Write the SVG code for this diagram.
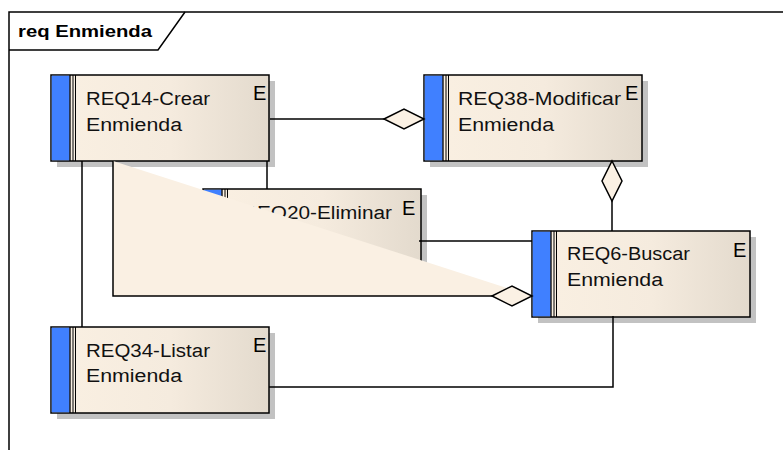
<svg xmlns="http://www.w3.org/2000/svg" width="783" height="450" viewBox="0 0 783 450">
  <defs>
    <linearGradient id="reqFill" x1="0" y1="0" x2="1" y2="0">
      <stop offset="0" stop-color="#faf0e2"/>
      <stop offset="0.55" stop-color="#f5ebde"/>
      <stop offset="1" stop-color="#e3dacd"/>
    </linearGradient>
    <!-- one requirement element: shadow, body, blue stripe, double rule -->
    <g id="reqBox">
      <rect x="6" y="6" width="218" height="86" fill="#c2c2c2"/>
      <rect x="0" y="0" width="218" height="86" fill="url(#reqFill)" stroke="#000" stroke-width="1.5"/>
      <rect x="0.75" y="0.75" width="18" height="84.5" fill="#4080ff"/>
      <line x1="19" y1="0" x2="19" y2="86" stroke="#000" stroke-width="1.3"/>
      <line x1="22" y1="0" x2="22" y2="86" stroke="#000" stroke-width="1"/>
      <line x1="24.5" y1="0" x2="24.5" y2="86" stroke="#000" stroke-width="1"/>
    </g>
  </defs>
  <style>
    .frame { fill: none; stroke: #000; stroke-width: 1.5; }
    .title { font-family: "Liberation Sans", Arial, sans-serif; font-size: 17px; font-weight: bold; fill: #000; }
    .lbl { font-family: "Liberation Sans", Arial, sans-serif; font-size: 18px; fill: #111; }
    .stereo { font-family: "Liberation Sans", Arial, sans-serif; font-size: 20px; fill: #000; }
    .link { fill: none; stroke: #000; stroke-width: 1.5; }
    .diamond { fill: #fbf1e4; stroke: #000; stroke-width: 1.5; stroke-linejoin: miter; }
  </style>

  <rect width="783" height="450" fill="#fff"/>

  <!-- diagram frame with name tab -->
  <g id="frame">
    <polyline class="frame" points="9,450 9,12 783,12"/>
    <polyline class="frame" points="9,50 158,50 185,12"/>
    <text class="title" x="18" y="37" textLength="134" lengthAdjust="spacingAndGlyphs">req Enmienda</text>
  </g>

  <g id="REQ14">
    <use href="#reqBox" x="51" y="75"/>
    <text class="lbl" x="86" y="105" textLength="124" lengthAdjust="spacingAndGlyphs">REQ14-Crear</text>
    <text class="lbl" x="86" y="131" textLength="96" lengthAdjust="spacingAndGlyphs">Enmienda</text>
    <text class="stereo" x="253" y="100">E</text>
  </g>

  <g id="REQ38">
    <use href="#reqBox" x="424" y="75"/>
    <text class="lbl" x="458" y="105" textLength="163" lengthAdjust="spacingAndGlyphs">REQ38-Modificar</text>
    <text class="lbl" x="458" y="131" textLength="96" lengthAdjust="spacingAndGlyphs">Enmienda</text>
    <text class="stereo" x="625" y="100">E</text>
  </g>

  <g id="REQ20">
    <use href="#reqBox" x="203" y="189"/>
    <text class="lbl" x="242" y="219" textLength="150" lengthAdjust="spacingAndGlyphs">REQ20-Eliminar</text>
    <text class="stereo" x="402" y="215">E</text>
  </g>

  <g id="REQ6">
    <use href="#reqBox" x="532" y="231"/>
    <text class="lbl" x="567" y="260" textLength="123" lengthAdjust="spacingAndGlyphs">REQ6-Buscar</text>
    <text class="lbl" x="567" y="286" textLength="96" lengthAdjust="spacingAndGlyphs">Enmienda</text>
    <text class="stereo" x="733" y="257">E</text>
  </g>

  <g id="REQ34">
    <use href="#reqBox" x="51" y="327"/>
    <text class="lbl" x="86" y="357" textLength="124" lengthAdjust="spacingAndGlyphs">REQ34-Listar</text>
    <text class="lbl" x="86" y="382" textLength="96" lengthAdjust="spacingAndGlyphs">Enmienda</text>
    <text class="stereo" x="253" y="352">E</text>
  </g>

  <g id="connectors">
    <!-- filled wedge under the REQ14 to REQ6 link -->
    <polygon points="113,161 113,296 532,296" fill="#faf0e3"/>
    <!-- REQ14 - REQ38 -->
    <line class="link" x1="270" y1="119" x2="384" y2="119"/>
    <polygon class="diamond" points="384,119 404,109 424,119 404,129"/>
    <!-- REQ6 - REQ38 -->
    <line class="link" x1="612" y1="201" x2="612" y2="231"/>
    <polygon class="diamond" points="612,161 622,181 612,201 602,181"/>
    <!-- REQ20 - REQ6 -->
    <line class="link" x1="419" y1="241" x2="532" y2="241"/>
    <!-- REQ14 - REQ6 -->
    <polyline class="link" points="113,161 113,296 492,296"/>
    <polygon class="diamond" points="492,296 512,286 532,296 512,306"/>
    <!-- REQ14 - REQ20 -->
    <line class="link" x1="267" y1="161" x2="267" y2="189"/>
    <!-- REQ14 - REQ34 -->
    <line class="link" x1="82" y1="161" x2="82" y2="327"/>
    <!-- REQ6 - REQ34 -->
    <polyline class="link" points="613,316 613,387 269,387"/>
  </g>
</svg>
